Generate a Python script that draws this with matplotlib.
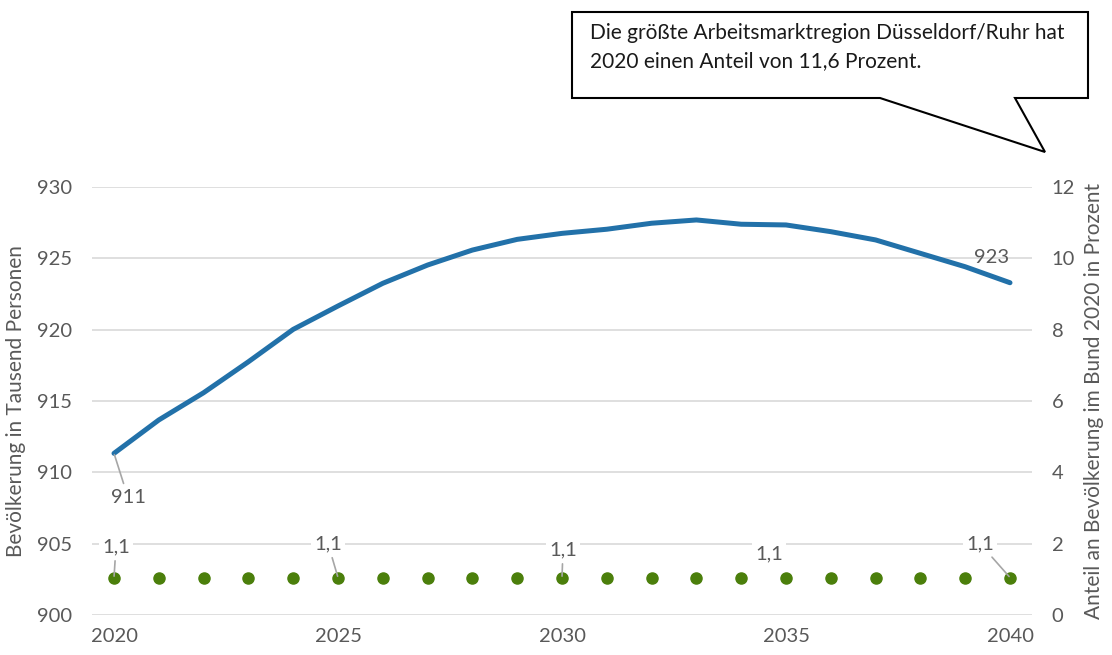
import numpy as np
import matplotlib
matplotlib.use("Agg")
import matplotlib.pyplot as plt
from matplotlib.patches import Polygon

plt.rcParams['font.family'] = ['Lato', 'DejaVu Sans']

# Data
years = list(range(2020, 2041))
population = [911.33, 913.67, 915.58, 917.75, 920.02, 921.66, 923.25, 924.53,
              925.58, 926.33, 926.75, 927.04, 927.46, 927.69, 927.39, 927.34,
              926.87, 926.29, 925.35, 924.41, 923.29]
share = [1.05] * len(years)

pop_label_years = [2020, 2040]
pop_label_text = ["911", "923"]
share_label_years = [2020, 2025, 2030, 2035, 2040]
share_label_text = ["1,1", "1,1", "1,1", "1,1", "1,1"]

callout_text = ("Die größte Arbeitsmarktregion Düsseldorf/Ruhr hat\n"
                "2020 einen Anteil von 11,6 Prozent.")

blue = "#2271a9"
green = "#4b7f0b"
grey_txt = "#595959"
grid_col = "#d9d9d9"
fs = 14.5

W, H = 1112, 655
fig = plt.figure(figsize=(W / 100, H / 100), dpi=100)
ax = fig.add_axes([91.6 / W, 1 - 615 / H, (1032.4 - 91.6) / W, (615 - 187) / H])
ax2 = ax.twinx()

ax.set_xlim(2019.5, 2040.5)
ax.set_ylim(900, 930)
ax.set_yticks(np.arange(900, 931, 5))
ax.set_xticks([2020, 2025, 2030, 2035, 2040])
ax2.set_ylim(0, 12)
ax2.set_yticks(np.arange(0, 13, 2))

for a in (ax, ax2):
    for s in a.spines.values():
        s.set_visible(False)
    a.tick_params(length=0, labelsize=fs, colors=grey_txt)
ax.tick_params(axis='y', pad=14)
ax.tick_params(axis='x', pad=9)
ax2.tick_params(axis='y', pad=14)

ax.grid(axis='y', color=grid_col, linewidth=1.2)
ax.set_axisbelow(True)

ax.plot(years, population, color=blue, linewidth=3.6, solid_capstyle='round', zorder=3)
ax2.plot(years, share, 'o', color=green, markersize=8, zorder=3)

ax.set_ylabel("Bevölkerung in Tausend Personen", fontsize=15, color=grey_txt, labelpad=8)
ax2.set_ylabel("Anteil an Bevölkerung im Bund 2020 in Prozent", fontsize=15,
               color=grey_txt, labelpad=6)

lead = dict(arrowstyle='-', color='#a6a6a6', lw=1.2, shrinkA=2, shrinkB=1)
box = dict(boxstyle='square,pad=0.15', fc='white', ec='none')

# population labels
pop_offsets = {2020: (14, -44), 2040: (-18, 25)}
for yr, txt in zip(pop_label_years, pop_label_text):
    i = years.index(yr)
    ap = lead if yr == 2020 else None
    ax.annotate(txt, (yr, population[i]), xytext=pop_offsets[yr],
                textcoords='offset pixels', ha='center', va='center',
                fontsize=fs, color=grey_txt, arrowprops=ap, zorder=4)

# share labels
share_offsets = {2020: (2, 31), 2025: (-10, 34), 2030: (1, 28), 2035: (-17, 24), 2040: (-30, 34)}
for yr, txt in zip(share_label_years, share_label_text):
    i = years.index(yr)
    ap = None if yr == 2035 else lead
    ax2.annotate(txt, (yr, share[i]), xytext=share_offsets[yr],
                 textcoords='offset pixels', ha='center', va='center',
                 fontsize=fs, color=grey_txt, arrowprops=ap, bbox=box, zorder=4)

# callout
pts = [(572, 12), (1088, 12), (1088, 98), (1015, 98), (1045, 152), (880, 98), (572, 98)]
poly = Polygon([(x / W, 1 - y / H) for x, y in pts], closed=True,
               transform=fig.transFigure, fc='white', ec='black', lw=1.5)
fig.patches.append(poly)
fig.text(590 / W, 1 - 47 / H, callout_text, fontsize=15, color='#1a1a1a',
         ha='left', va='center', linespacing=1.45)

fig.savefig("out.png", dpi=100)
